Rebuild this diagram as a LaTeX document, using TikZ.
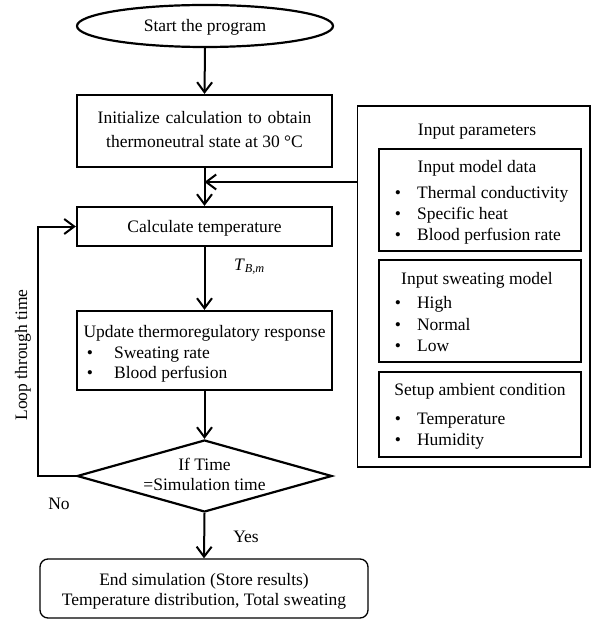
\documentclass[tikz,border=0pt]{standalone}
\usepackage{fontspec}
\setmainfont{Liberation Serif}
\usetikzlibrary{shapes.geometric,arrows.meta}
\begin{document}
\begin{tikzpicture}[x=1pt,y=-1pt,
  font=\fontsize{17.5}{21}\selectfont,
  line width=2.2pt,
  arr/.style={line width=2pt, -{Straight Barb[length=10pt,width=15pt,line width=2pt]}},
  box/.style={draw, rectangle, inner sep=0pt},
  txt/.style={inner sep=0pt, anchor=base},
  ltxt/.style={inner sep=0pt, anchor=base west},
  bul/.style={inner sep=0pt, anchor=base}]
\useasboundingbox (0,0) rectangle (593,620);

% main column
\node[draw, ellipse, minimum width=256pt, minimum height=42pt, inner sep=0pt] (start) at (205,26) {};
\node[txt] (startt) at (205,31.5) {Start the program};

\node[box, minimum width=255pt, minimum height=72pt] (init) at (204.5,131) {};
\node[txt] (initt1) at (204.5,123.5) {\spaceskip=0.33em plus 0.1em Initialize calculation to obtain};
\node[txt] (initt2) at (204.5,147.5) {thermoneutral state at 30 °C};

\node[box, minimum width=255pt, minimum height=39pt] (calc) at (204.5,226.5) {};
\node[txt] (calct) at (204.5,232) {Calculate temperature};

\node[box, minimum width=255pt, minimum height=79pt] (upd) at (204.5,350.5) {};
\node[txt] (updt) at (204.5,337.5) {Update thermoregulatory response};
\node[bul] (updb1) at (90,358.5) {•};
\node[ltxt] (updt1) at (113,358.5) {Sweating rate};
\node[bul] (updb2) at (90,378.5) {•};
\node[ltxt] (updt2) at (113,378.5) {Blood perfusion};

\node[draw, diamond, minimum width=255pt, minimum height=72pt, inner sep=0pt] (dec) at (204.5,476) {};
\node[txt] (dect1) at (204.5,470.5) {If Time};
\node[txt] (dect2) at (204.5,490.5) {=Simulation time};

\node[draw, rectangle, rounded corners=8pt, line width=1.3pt, minimum width=328pt, minimum height=59pt, inner sep=0pt] (endn) at (204,588.5) {};
\node[txt] (endt1) at (204,585.5) {End simulation (Store results)};
\node[txt] (endt2) at (204,605.5) {Temperature distribution, Total sweating};

% right panel
\node[box, line width=1.8pt, minimum width=232.5pt, minimum height=361pt] (inp) at (473.75,286.5) {};
\node[txt] (inpt) at (477,135.5) {Input parameters};

\node[box, minimum width=202pt, minimum height=102pt] (mdl) at (480,200) {};
\node[txt] (mdlt) at (477,172.5) {Input model data};
\node[bul] (mb1) at (398,198.5) {•};
\node[ltxt] (mt1) at (416,198.5) {Thermal conductivity};
\node[bul] (mb2) at (398,219.5) {•};
\node[ltxt] (mt2) at (416,219.5) {Specific heat};
\node[bul] (mb3) at (398,240.5) {•};
\node[ltxt] (mt3) at (416,240.5) {Blood perfusion rate};

\node[box, minimum width=202pt, minimum height=102pt] (swt) at (480,311) {};
\node[txt] (swtt) at (477,284.5) {Input sweating model};
\node[bul] (sb1) at (398,308.5) {•};
\node[ltxt] (st1) at (416,308.5) {High};
\node[bul] (sb2) at (398,330.5) {•};
\node[ltxt] (st2) at (416,330.5) {Normal};
\node[bul] (sb3) at (398,351.5) {•};
\node[ltxt] (st3) at (416,351.5) {Low};

\node[box, minimum width=202pt, minimum height=85pt] (amb) at (480,414.5) {};
\node[txt] (ambt) at (480,395.5) {Setup ambient condition};
\node[bul] (ab1) at (398,424.5) {•};
\node[ltxt] (at1) at (416,424.5) {Temperature};
\node[bul] (ab2) at (398,445.5) {•};
\node[ltxt] (at2) at (416,445.5) {Humidity};

% labels
\node[inner sep=0pt, anchor=base west] (tbm) at (233,270) {\textit{T}\textsubscript{\textit{B,m}}};
\node[txt] (yes) at (246,542.5) {Yes};
\node[txt] (no) at (59,509) {No};
\node[inner sep=0pt, rotate=90] (loop) at (23,355) {Loop through time};

% connectors
\coordinate (join) at (204.5,182);
\coordinate (loopx) at (38,476);
\draw[arr] (start.south) -- (init.north);
\draw[arr] (init.south) -- (calc.north);
\draw[arr] (inp.west |- join) -- (join);
\draw[arr] (calc.south) -- (upd.north);
\draw[arr] (upd.south) -- (dec.north);
\draw[arr] (dec.south) -- (endn.north);
\draw[arr] (dec.west) -- (loopx) |- (calc.west);
\end{tikzpicture}
\end{document}
